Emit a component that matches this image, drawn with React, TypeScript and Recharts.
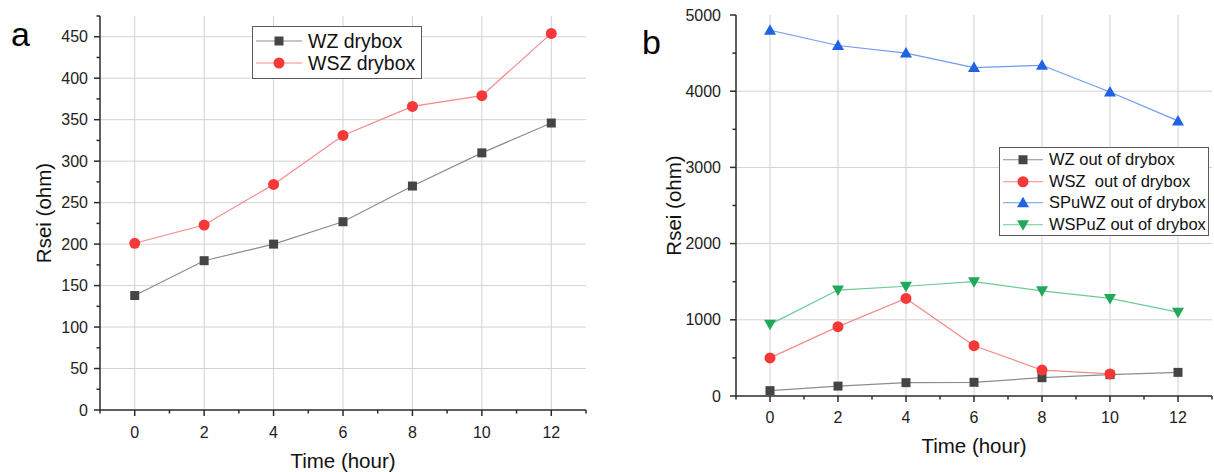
import { LineChart, Line, XAxis, YAxis, CartesianGrid, Legend } from "recharts"

// sampling times (hours)
const hours = [0, 2, 4, 6, 8, 10, 12]

// panel a: stored in drybox
const wzDrybox = [138, 180, 200, 227, 270, 310, 346]
const wszDrybox = [201, 223, 272, 331, 366, 379, 454]

// panel b: out of drybox
const wzOut = [70, 130, 175, 180, 240, 280, 310]
const wszOut: (number | null)[] = [500, 910, 1280, 660, 340, 290, null]
const spuwzOut = [4800, 4600, 4500, 4310, 4340, 3990, 3610]
const wspuzOut = [940, 1390, 1440, 1500, 1380, 1280, 1100]

// axis ticks
const xTicks = [-1, 0, 1, 2, 3, 4, 5, 6, 7, 8, 9, 10, 11, 12, 13]
const xGrid = [0, 2, 4, 6, 8, 10, 12]
const yTicksA = [0, 25, 50, 75, 100, 125, 150, 175, 200, 225, 250, 275, 300, 325, 350, 375, 400, 425, 450, 475]
const yGridA = [50, 100, 150, 200, 250, 300, 350, 400, 450]
const yTicksB = [0, 500, 1000, 1500, 2000, 2500, 3000, 3500, 4000, 4500, 5000]
const yGridB = [1000, 2000, 3000, 4000]

const FONT = '"Liberation Sans", Arial, sans-serif'
const AXIS = "#2b2b2b"
const GRID = "#d2d2d2"
const TICK_SIZE = 6
const TICK_GAP = 6

const C = {
    greyLine: "#8c8c8c",
    greyDot: "#454545",
    redLine: "#f58a8a",
    redDot: "#f53838",
    blueLine: "#6f9bf0",
    blueDot: "#1f63e0",
    greenLine: "#6cca96",
    greenDot: "#22a85a",
}

const dataA = hours.map((h, i) => ({ hour: h, wz: wzDrybox[i], wsz: wszDrybox[i] }))
const dataB = hours.map((h, i) => ({
    hour: h,
    wz: wzOut[i],
    wsz: wszOut[i],
    spuwz: spuwzOut[i],
    wspuz: wspuzOut[i],
}))

type Shape = "square" | "circle" | "up" | "down"

function Marker({ shape, cx, cy, fill }: { shape: Shape; cx: number; cy: number; fill: string }) {
    if (shape === "square") return <rect x={cx - 4.5} y={cy - 4.5} width={9} height={9} fill={fill} />
    if (shape === "circle") return <circle cx={cx} cy={cy} r={5.5} fill={fill} />
    if (shape === "up")
        return <polygon points={`${cx - 6},${cy + 4.5} ${cx + 6},${cy + 4.5} ${cx},${cy - 6}`} fill={fill} />
    return <polygon points={`${cx - 6},${cy - 4.5} ${cx + 6},${cy - 4.5} ${cx},${cy + 6}`} fill={fill} />
}

const dot = (shape: Shape, fill: string) => (p: any) => {
    if (p.cx == null || p.cy == null || p.value == null) return <g key={p.key} />
    return (
        <g key={p.key}>
            <Marker shape={shape} cx={p.cx} cy={p.cy} fill={fill} />
        </g>
    )
}

const scaleOf = (axis: any, v: number) => {
    const s = axis?.scale
    if (!s) return 0
    return typeof s === "function" ? s(v) : s.map(v)
}

// left axis tick: long outward tick with label on majors, short tick otherwise
const makeYTick = (step: number, gap: number) => (props: any) => {
    const { x, y, payload } = props
    const axisX = x + TICK_SIZE + gap
    const v = payload.value
    const major = v % step === 0
    return (
        <g>
            <line x1={axisX} x2={axisX - (major ? 6 : 3.5)} y1={y} y2={y} stroke={AXIS} strokeWidth={1.5} />
            {major && (
                <text x={x} y={y + 5.5} textAnchor="end" fontSize={16} fill="#222" fontFamily={FONT}>
                    {v}
                </text>
            )}
        </g>
    )
}

const makeXTick = (labelDy: number) => (props: any) => {
    const { x, y, payload } = props
    const axisY = y - TICK_SIZE - TICK_GAP
    const v = payload.value
    const major = v % 2 === 0
    return (
        <g>
            <line x1={x} x2={x} y1={axisY} y2={axisY + (major ? 6 : 3.5)} stroke={AXIS} strokeWidth={1.5} />
            {major && (
                <text x={x} y={axisY + labelDy} textAnchor="middle" fontSize={16} fill="#222" fontFamily={FONT}>
                    {v}
                </text>
            )}
        </g>
    )
}

interface LegendRow {
    name: string
    shape: Shape
    line: string
    fill: string
}

function LegendBox({ rows, fontSize, rowH, segW, pad }: { rows: LegendRow[]; fontSize: number; rowH: number; segW: number; pad: string }) {
    return (
        <div
            style={{
                border: "1px solid #5a5a5a",
                background: "#fff",
                padding: pad,
                fontFamily: FONT,
                fontSize,
                color: "#111",
                whiteSpace: "pre",
            }}
        >
            {rows.map((r) => (
                <div key={r.name} style={{ display: "flex", alignItems: "center", height: rowH }}>
                    <svg width={segW} height={rowH} style={{ display: "block" }}>
                        <line x1={1} x2={segW - 3} y1={rowH / 2} y2={rowH / 2} stroke={r.line} strokeWidth={1.2} />
                        <Marker shape={r.shape} cx={(segW - 2) / 2} cy={rowH / 2} fill={r.fill} />
                    </svg>
                    <span style={{ marginLeft: 3, lineHeight: `${rowH}px` }}>{r.name}</span>
                </div>
            ))}
        </div>
    )
}

const legendA: LegendRow[] = [
    { name: "WZ drybox", shape: "square", line: C.greyLine, fill: C.greyDot },
    { name: "WSZ drybox", shape: "circle", line: C.redLine, fill: C.redDot },
]

const legendB: LegendRow[] = [
    { name: "WZ out of drybox", shape: "square", line: C.greyLine, fill: C.greyDot },
    { name: "WSZ  out of drybox", shape: "circle", line: C.redLine, fill: C.redDot },
    { name: "SPuWZ out of drybox", shape: "up", line: C.blueLine, fill: C.blueDot },
    { name: "WSPuZ out of drybox", shape: "down", line: C.greenLine, fill: C.greenDot },
]

const titleStyle = { fontSize: 20.5, fill: "#111", fontFamily: FONT }

function PanelA() {
    return (
        <LineChart width={600} height={472} data={dataA} margin={{ top: 16, right: 14, bottom: 2, left: 30 }}>
            <CartesianGrid
                stroke={GRID}
                strokeWidth={1}
                horizontalCoordinatesGenerator={({ yAxis }: any) => yGridA.map((v) => scaleOf(yAxis, v))}
                verticalCoordinatesGenerator={({ xAxis }: any) => xGrid.map((v) => scaleOf(xAxis, v))}
            />
            <XAxis
                dataKey="hour"
                type="number"
                domain={[-1, 13]}
                ticks={xTicks}
                interval={0}
                height={60}
                tickSize={TICK_SIZE}
                tickMargin={TICK_GAP}
                tickLine={false}
                axisLine={{ stroke: AXIS, strokeWidth: 1.5 }}
                tick={makeXTick(28)}
                label={{ value: "Time (hour)", position: "insideBottom", offset: 2, style: titleStyle }}
            />
            <YAxis
                type="number"
                domain={[0, 475]}
                ticks={yTicksA}
                interval={0}
                width={70}
                tickSize={TICK_SIZE}
                tickMargin={TICK_GAP}
                tickLine={false}
                axisLine={{ stroke: AXIS, strokeWidth: 1.5 }}
                tick={makeYTick(50, TICK_GAP)}
                label={{ value: "Rsei (ohm)", angle: -90, position: "insideLeft", offset: 14, style: { ...titleStyle, textAnchor: "middle" } }}
            />
            <Legend
                layout="vertical"
                align="center"
                verticalAlign="middle"
                wrapperStyle={{ left: 252, top: 26, width: "auto", height: "auto" }}
                content={() => <LegendBox rows={legendA} fontSize={19.5} rowH={22} segW={50} pad="3px 6px 4px 2px" />}
            />
            <Line dataKey="wz" name="WZ drybox" stroke={C.greyLine} strokeWidth={1.2} dot={dot("square", C.greyDot)} isAnimationActive={false} />
            <Line dataKey="wsz" name="WSZ drybox" stroke={C.redLine} strokeWidth={1.2} dot={dot("circle", C.redDot)} isAnimationActive={false} />
        </LineChart>
    )
}

function PanelB() {
    return (
        <LineChart width={614} height={472} data={dataB} margin={{ top: 15, right: 2, bottom: 10, left: 61 }}>
            <CartesianGrid
                stroke={GRID}
                strokeWidth={1}
                horizontalCoordinatesGenerator={({ yAxis }: any) => yGridB.map((v) => scaleOf(yAxis, v))}
                verticalCoordinatesGenerator={({ xAxis }: any) => xGrid.map((v) => scaleOf(xAxis, v))}
            />
            <XAxis
                dataKey="hour"
                type="number"
                domain={[-1, 13]}
                ticks={xTicks}
                interval={0}
                height={66}
                tickSize={TICK_SIZE}
                tickMargin={TICK_GAP}
                tickLine={false}
                axisLine={{ stroke: AXIS, strokeWidth: 1.5 }}
                tick={makeXTick(27)}
                label={{ value: "Time (hour)", position: "insideBottom", offset: 9, style: titleStyle }}
            />
            <YAxis
                type="number"
                domain={[0, 5000]}
                ticks={yTicksB}
                interval={0}
                width={75}
                tickSize={TICK_SIZE}
                tickMargin={TICK_GAP + 3}
                tickLine={false}
                axisLine={{ stroke: AXIS, strokeWidth: 1.5 }}
                tick={makeYTick(1000, TICK_GAP + 3)}
                label={{ value: "Rsei (ohm)", angle: -90, position: "insideLeft", offset: 13, style: { ...titleStyle, textAnchor: "middle" } }}
            />
            <Legend
                layout="vertical"
                align="center"
                verticalAlign="middle"
                wrapperStyle={{ left: 399, top: 147, width: "auto", height: "auto" }}
                content={() => <LegendBox rows={legendB} fontSize={16.5} rowH={21.5} segW={44} pad="1px 2px 0px 2px" />}
            />
            <Line dataKey="wz" name="WZ out of drybox" stroke={C.greyLine} strokeWidth={1.2} dot={dot("square", C.greyDot)} isAnimationActive={false} />
            <Line dataKey="wsz" name="WSZ  out of drybox" stroke={C.redLine} strokeWidth={1.2} dot={dot("circle", C.redDot)} isAnimationActive={false} />
            <Line dataKey="spuwz" name="SPuWZ out of drybox" stroke={C.blueLine} strokeWidth={1.2} dot={dot("up", C.blueDot)} isAnimationActive={false} />
            <Line dataKey="wspuz" name="WSPuZ out of drybox" stroke={C.greenLine} strokeWidth={1.2} dot={dot("down", C.greenDot)} isAnimationActive={false} />
        </LineChart>
    )
}

export default function App() {
    return (
        <div style={{ position: "absolute", left: 0, top: 0, width: 1214, height: 472, background: "#fff", fontFamily: FONT }}>
            <div style={{ position: "absolute", left: 0, top: 0 }}>
                <PanelA />
            </div>
            <div style={{ position: "absolute", left: 600, top: 0 }}>
                <PanelB />
            </div>
            <div style={{ position: "absolute", left: 11, top: 14, fontSize: 34, lineHeight: "40px", color: "#000" }}>a</div>
            <div style={{ position: "absolute", left: 642, top: 22, fontSize: 34, lineHeight: "40px", color: "#000" }}>b</div>
        </div>
    )
}
